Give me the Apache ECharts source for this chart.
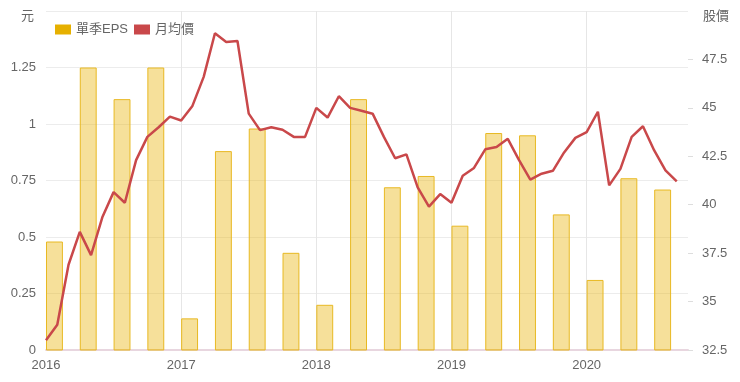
<!DOCTYPE html>
<html>
<head>
<meta charset="utf-8">
<script src="https://cdn.jsdelivr.net/npm/echarts@6/dist/echarts.min.js"></script>
<style>html,body{margin:0;padding:0;background:#fff}#c{width:740px;height:382px}</style>
</head>
<body>
<div id="c"></div>
<script>
// ---- data ----
const quarters = ['2016-01','2016-04','2016-07','2016-10','2017-01','2017-04','2017-07','2017-10','2018-01','2018-04','2018-07','2018-10','2019-01','2019-04','2019-07','2019-10','2020-01','2020-04','2020-07'];
const epsValues = [0.48,1.25,1.11,1.25,0.14,0.88,0.98,0.43,0.20,1.11,0.72,0.77,0.55,0.96,0.95,0.60,0.31,0.76,0.71];
const months = ['2016-01','2016-02','2016-03','2016-04','2016-05','2016-06','2016-07','2016-08','2016-09','2016-10','2016-11','2016-12',
'2017-01','2017-02','2017-03','2017-04','2017-05','2017-06','2017-07','2017-08','2017-09','2017-10','2017-11','2017-12',
'2018-01','2018-02','2018-03','2018-04','2018-05','2018-06','2018-07','2018-08','2018-09','2018-10','2018-11','2018-12',
'2019-01','2019-02','2019-03','2019-04','2019-05','2019-06','2019-07','2019-08','2019-09','2019-10','2019-11','2019-12',
'2020-01','2020-02','2020-03','2020-04','2020-05','2020-06','2020-07','2020-08','2020-09'];
const priceValues = [33.0,33.8,36.9,38.6,37.4,39.35,40.65,40.1,42.3,43.5,44.0,44.55,
44.35,45.1,46.6,48.85,48.4,48.45,44.7,43.85,44.0,43.87,43.5,43.5,
45.0,44.5,45.6,45.0,44.85,44.7,43.5,42.4,42.6,40.9,39.9,40.55,
40.1,41.5,41.9,42.86,42.98,43.4,42.3,41.3,41.6,41.75,42.7,43.45,
43.75,44.8,41.0,41.85,43.5,44.05,42.8,41.77,41.2];
const yearLabels = ['2016','2017','2018','2019','2020'];
const startYear = 2016;

// month string -> month index on the x axis
function mIdx(s){ const p = s.split('-'); return (+p[0]-startYear)*12 + (+p[1]-1); }

const barData = quarters.map((q,i)=>[mIdx(q), epsValues[i]]);
const lineData = months.map((m,i)=>[mIdx(m), priceValues[i]]);

const FONT = "'Liberation Sans', 'Noto Sans CJK TC', Arial, sans-serif";
const chart = echarts.init(document.getElementById('c'), null, {renderer:'canvas'});
chart.setOption({
  animation:false,
  textStyle:{fontFamily:FONT},
  grid:{left:46,right:52,top:11,bottom:32,containLabel:false},
  legend:{
    left:50, top:18, itemWidth:16, itemHeight:10, itemGap:6, icon:'rect',
    textStyle:{color:'#666',fontSize:13,fontFamily:FONT},
    data:[{name:'單季EPS',itemStyle:{color:'#e6b000',borderWidth:0,opacity:1}},
          {name:'月均價',itemStyle:{color:'#c9484a'}}]
  },
  xAxis:{
    type:'value', min:0, max:57, interval:12,
    axisLine:{show:true,lineStyle:{color:'#e8d6df',width:2}},
    axisTick:{show:false},
    axisLabel:{color:'#666',fontSize:13,margin:9,fontFamily:FONT,showMaxLabel:false,
      formatter:v=> (v%12===0 ? yearLabels[v/12] : '')},
    splitLine:{show:true,lineStyle:{color:['transparent','#e6e6e6','#e6e6e6','#e6e6e6','#e6e6e6','transparent'],width:1}}
  },
  yAxis:[{
    type:'value', min:0, max:1.5, interval:0.25, position:'left',
    name:'元', nameLocation:'end', nameGap:-5,
    nameTextStyle:{color:'#666',fontSize:13,align:'right',verticalAlign:'middle',padding:[0,12,0,0],fontFamily:FONT},
    axisLine:{show:false}, axisTick:{show:false},
    axisLabel:{color:'#666',fontSize:13,margin:10,showMaxLabel:false,fontFamily:FONT},
    splitLine:{show:true,lineStyle:{color:'#ececec',width:1}}
  },{
    type:'value', min:32.5, max:50, interval:2.5, position:'right',
    name:'股價', nameLocation:'end', nameGap:-5,
    nameTextStyle:{color:'#666',fontSize:13,align:'left',verticalAlign:'middle',padding:[0,0,0,15],fontFamily:FONT},
    axisLine:{show:false},
    axisTick:{show:true,length:5,lineStyle:{color:'#dddddd'}},
    axisLabel:{color:'#666',fontSize:13,margin:14,showMaxLabel:false,fontFamily:FONT},
    splitLine:{show:false}
  }],
  series:[{
    name:'單季EPS', type:'custom', xAxisIndex:0, yAxisIndex:0, z:2,
    itemStyle:{color:'rgba(236,186,30,0.45)',borderColor:'#e8b923',borderWidth:1},
    encode:{x:0,y:1},
    renderItem:function(params, api){
      const s = api.coord([api.value(0), api.value(1)]);
      const e = api.coord([api.value(0)+1.5, 0]);
      return {type:'rect', shape:{x:s[0]+0.5, y:s[1]+0.5, width:e[0]-s[0]-1, height:e[1]-s[1]-0.5},
        style:{fill:'rgba(236,186,30,0.45)', stroke:'#e8b923', lineWidth:1}};
    },
    data:barData
  },{
    name:'月均價', type:'line', xAxisIndex:0, yAxisIndex:1, z:3,
    showSymbol:false, symbol:'none',
    lineStyle:{color:'#c9484a',width:2.5},
    itemStyle:{color:'#c9484a'},
    data:lineData
  }]
});
</script>
</body>
</html>
